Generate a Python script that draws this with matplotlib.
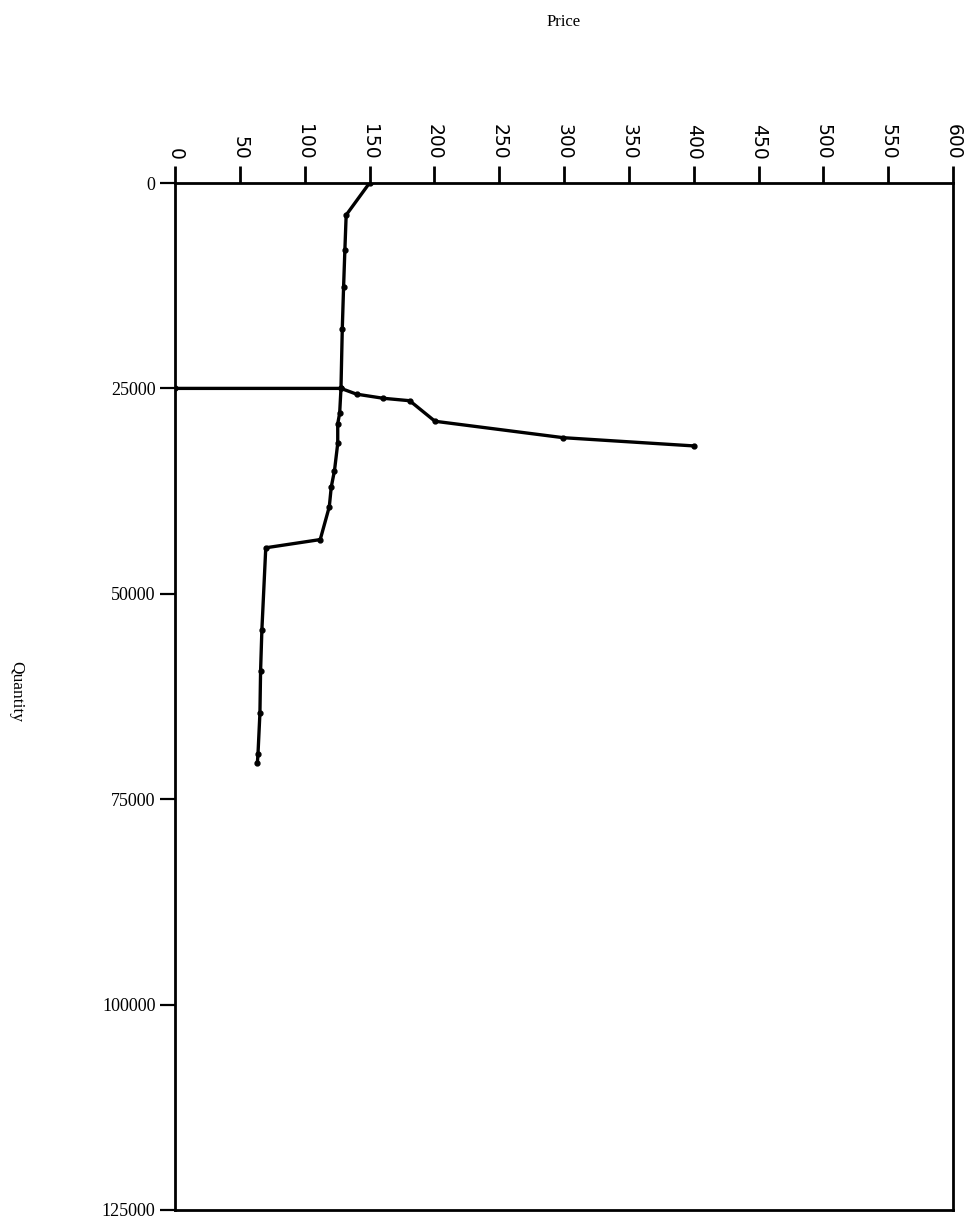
import numpy as np
import matplotlib.pyplot as plt

# curve 1 (steep one)
price_a = [150, 132, 131, 130, 129, 128, 127, 125.5, 125.5, 123, 120.5, 119, 112,
           70, 67, 66, 65.5, 64, 63.5]
qty_a = [0, 3900, 8200, 12700, 17800, 25000, 28000, 29300, 31700, 35000, 37000,
         39400, 43400, 44400, 54400, 59400, 64500, 69500, 70600]

# curve 2 (flat one)
price_b = [0, 128, 140, 160.5, 181, 200.5, 299.5, 400]
qty_b = [25000, 25000, 25700, 26200, 26500, 29000, 31000, 32000]

price_ticks = np.arange(0, 601, 50)
qty_ticks = [0, 25000, 50000, 75000, 100000, 125000]

fig = plt.figure(figsize=(9.66, 12.32), dpi=100)
ax = fig.add_axes([175 / 966, 1 - 1210 / 1232, (953 - 175) / 966, (1210 - 183) / 1232])

ax.plot(price_a, qty_a, color='black', lw=2.4, marker='o', ms=3.5)
ax.plot(price_b, qty_b, color='black', lw=2.4, marker='o', ms=3.5)

ax.set_xlim(0, 600)
ax.set_ylim(125000, 0)

# price axis on top
ax.xaxis.tick_top()
ax.set_xticks(price_ticks)
ax.set_xticklabels([str(p) for p in price_ticks], rotation=270, fontsize=13.5,
                   family='DejaVu Sans', va='bottom', ha='center')
ax.tick_params(axis='x', direction='out', length=12, width=2, pad=5)

ax.set_yticks(qty_ticks)
ax.set_yticklabels([str(q) for q in qty_ticks], fontsize=13, family='Liberation Serif')
ax.tick_params(axis='y', direction='out', length=11, width=1.6, pad=3)

for s in ax.spines.values():
    s.set_linewidth(2)

fig.text(564 / 966, 1 - 22 / 1232, 'Price', ha='center', va='center',
         fontsize=12, family='Liberation Serif')
fig.text(16 / 966, 1 - 692 / 1232, 'Quantity', ha='center', va='center',
         rotation=270, fontsize=12.5, family='Liberation Serif')

fig.savefig('out.png', dpi=100)
